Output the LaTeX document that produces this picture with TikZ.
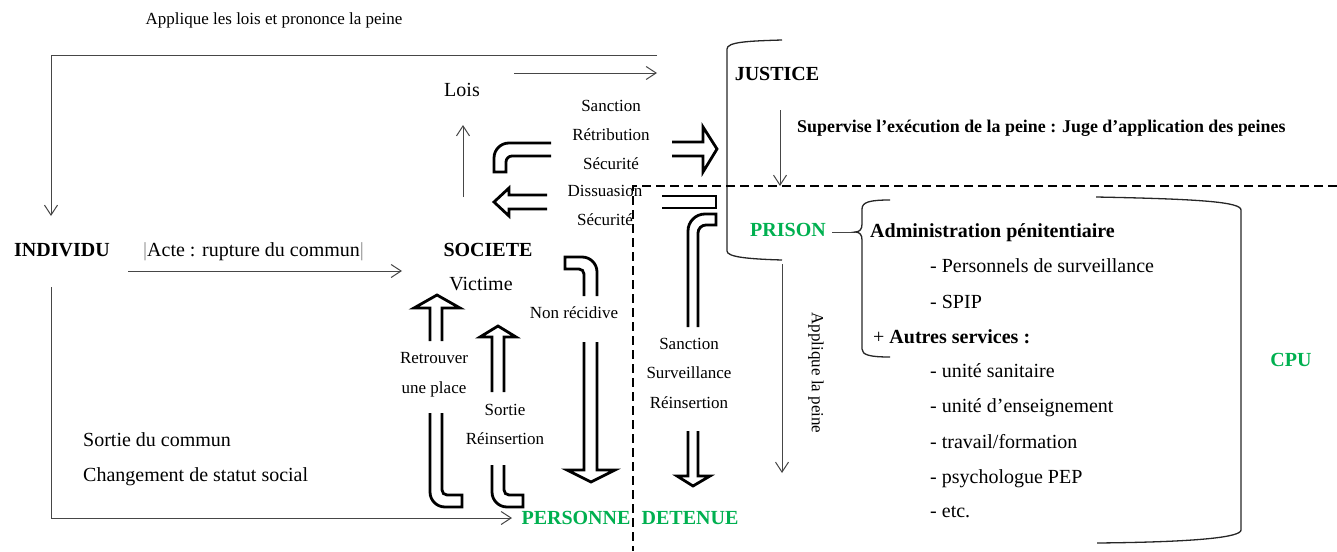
\documentclass[tikz,border=0pt]{standalone}
\usepackage{fontspec}
\setmainfont{Liberation Serif}
\usetikzlibrary{arrows.meta}
\definecolor{grn}{RGB}{0,176,80}
\definecolor{ln}{RGB}{70,70,70}
\begin{document}
\begin{tikzpicture}[x=1pt,y=-1pt,
  sm/.style={font=\fontsize{17}{20}\selectfont, inner sep=0pt, anchor=base},
  lg/.style={font=\fontsize{20}{24}\selectfont, inner sep=0pt, anchor=base},
  lgb/.style={font=\fontsize{20}{24}\selectfont\bfseries, inner sep=0pt, anchor=base},
  supb/.style={font=\fontsize{17.9}{20}\selectfont\bfseries, inner sep=0pt, anchor=base west},
  gr/.style={text=grn},
  conn/.style={draw=ln, line width=1pt, -{Straight Barb[length=10pt,width=13pt,line width=1pt]}},
  plainline/.style={draw=ln, line width=1pt},
  brk/.style={draw=black!85, line width=1.3pt},
  pipe/.style={draw=black, line width=2.8pt, line join=miter},
  dashline/.style={draw=black, line width=2.6pt, dash pattern=on 9pt off 5pt},
]
\useasboundingbox (0,0) rectangle (1337,551);

% ---------- texts ----------
\node[sm] (applique) at (274,25) {Applique les lois et prononce la peine};
\node[lg] (lois) at (462,96) {Lois};
\node[sm] (sanction) at (611,111) {Sanction};
\node[sm] (retrib) at (611,140) {Rétribution};
\node[sm] (secu1) at (611,169) {Sécurité};
\node[sm] (dissua) at (605,196) {Dissuasion};
\node[sm] (secu2) at (605,225) {Sécurité};
\node[lgb] (justice) at (777,81) {JUSTICE};
\node[supb] (supervise) at (797,132) {Supervise l’exécution de la peine : Juge d’application des peines};
\node[lgb] (individu) at (62,256) {INDIVIDU};
\node[lg, anchor=base west] (acte) at (143,256) {\textcolor{black!45}{|}Acte : rupture du commun\textcolor{black!45}{|}};
\node[lgb] (societe) at (488,256) {SOCIETE};
\node[lg] (victime) at (481,290) {Victime};
\node[sm] (nonrec) at (574,318) {Non récidive};
\node[sm] (retrouver) at (434,363) {Retrouver};
\node[sm] (uneplace) at (434,393) {une place};
\node[sm] (sortie) at (505,415) {Sortie};
\node[sm] (reins1) at (505,444) {Réinsertion};
\node[sm] (sanct2) at (689,349) {Sanction};
\node[sm] (surv) at (689,378) {Surveillance};
\node[sm] (reins2) at (689,408) {Réinsertion};
\node[lgb, gr] (personne) at (576,524) {PERSONNE};
\node[lgb, gr] (detenue) at (690,524) {DETENUE};
\node[lg, anchor=base west] (sortiecom) at (83,446) {Sortie du commun};
\node[lg, anchor=base west] (changement) at (83,481) {Changement de statut social};
\node[lgb, gr] (prison) at (788,236) {PRISON};
\node[lgb, anchor=base west] (admin) at (870,237) {Administration pénitentiaire};
\node[lg, anchor=base west] (perso) at (930,272) {- Personnels de surveillance};
\node[lg, anchor=base west] (spip) at (930,308) {- SPIP};
\node[lg, anchor=base west] (autres) at (873,343) {+ \textbf{Autres services :}};
\node[lg, anchor=base west] (sanit) at (930,377) {- unité sanitaire};
\node[lg, anchor=base west] (enseig) at (930,412) {- unité d’enseignement};
\node[lg, anchor=base west] (travail) at (930,448) {- travail/formation};
\node[lg, anchor=base west] (psycho) at (930,483) {- psychologue PEP};
\node[lg, anchor=base west] (etc) at (930,517) {- etc.};
\node[lgb, gr] (cpu) at (1291,366) {CPU};
\node[sm, anchor=center, rotate=-90] (appliquepeine) at (816,373) {Applique la peine};

% ---------- coordinates ----------
\coordinate (topR) at (657,56);
\coordinate (topL) at (51,56);
\coordinate (indIn) at (51,216);
\coordinate (loisA) at (514,73);
\coordinate (loisB) at (657,73);
\coordinate (socUp) at (463,197);
\coordinate (loisDn) at (463,125);
\coordinate (acteA) at (128,271);
\coordinate (acteB) at (402,271);
\coordinate (indOut) at (51,287);
\coordinate (corner) at (51,518);
\coordinate (persIn) at (512,518);
\coordinate (supA) at (780,110);
\coordinate (supB) at (780,186);
\coordinate (appA) at (782,264);
\coordinate (appB) at (782,473);
\coordinate (prisonR) at (832,232);
\coordinate (bracetip) at (855,232);

% ---------- thin connectors ----------
\draw[conn] (topR) -- (topL) -- (indIn);
\draw[conn] (loisA) -- (loisB);
\draw[conn] (socUp) -- (loisDn);
\draw[conn] (acteA) -- (acteB);
\draw[conn] (indOut) -- (corner) -- (persIn);
\draw[conn] (supA) -- (supB);
\draw[conn] (appA) -- (appB);
\draw[plainline] (prisonR) -- (bracetip);

% ---------- brackets ----------
\draw[brk] (782,40) .. controls (748,41) and (727,42) .. (727,49) -- (727,251) .. controls (727,257) and (748,259) .. (782,260);
\draw[brk] (890,200) .. controls (870,200) and (862,202) .. (862,209) -- (862,224) .. controls (862,229) and (860,232) .. (bracetip) .. controls (860,232) and (862,235) .. (862,240) -- (862,349) .. controls (862,355) and (870,357) .. (890,357);
\draw[brk] (1096,197) .. controls (1200,199) and (1241,202) .. (1241,210) -- (1241,530) .. controls (1241,537) and (1200,542) .. (1097,543);

% ---------- block arrows ----------
% right arrow to JUSTICE
\draw[pipe] (672,142) -- (703,142) -- (703,127) -- (717,149) -- (703,172) -- (703,156) -- (672,156);
% left arrow (Dissuasion)
\draw[pipe] (547,195) -- (509,195) -- (509,188) -- (494,202) -- (509,216) -- (509,209) -- (547,209);
% bent pipe top left
\draw[pipe] (551,143) -- (509,143) .. controls (500.7,143) and (494,149.7) .. (494,158) -- (494,172) -- (506,172) -- (506,162) .. controls (506,158.7) and (508.7,156) .. (512,156) -- (551,156);
% pipe right (under Dissuasion)
\draw[pipe] (662,196) -- (716,196) -- (716,208) -- (662,208);
\draw[pipe] (688,327) -- (688,231) .. controls (688,221.6) and (695.6,214) .. (705,214) -- (716,214) -- (716,225) -- (706,225) .. controls (701.6,225) and (698,228.6) .. (698,233) -- (698,327);
\draw[pipe] (688,431) -- (688,476) -- (677,476) -- (693,486) -- (710,476) -- (698,476) -- (698,431);
% Non recidive
\draw[pipe] (597,296) -- (597,272) .. controls (597,263.7) and (590.3,257) .. (582,257) -- (565,257) -- (565,269) -- (579,269) .. controls (581.8,269) and (584,271.2) .. (584,274) -- (584,296);
\draw[pipe] (584,342) -- (584,470) -- (567,470) -- (591,482) -- (615,470) -- (597,470) -- (597,342);
% Retrouver une place
\draw[pipe] (430,341) -- (430,308) -- (414,308) -- (437,295) -- (460,308) -- (442,308) -- (442,341);
\draw[pipe] (430,413) -- (430,492) .. controls (430,500.3) and (436.7,507) .. (445,507) -- (462,507) -- (462,495) -- (447,495) .. controls (444.2,495) and (442,492.8) .. (442,490) -- (442,413);
% Sortie Reinsertion
\draw[pipe] (492,392) -- (492,337) -- (480,337) -- (498,326) -- (516,337) -- (504,337) -- (504,392);
\draw[pipe] (492,465) -- (492,492) .. controls (492,500.3) and (498.7,507) .. (507,507) -- (523,507) -- (523,495) -- (509,495) .. controls (506.2,495) and (504,492.8) .. (504,490) -- (504,465);

% ---------- dashed boundary ----------
\draw[dashline] (1337,186) -- (633,186) -- (633,551);
\end{tikzpicture}
\end{document}
